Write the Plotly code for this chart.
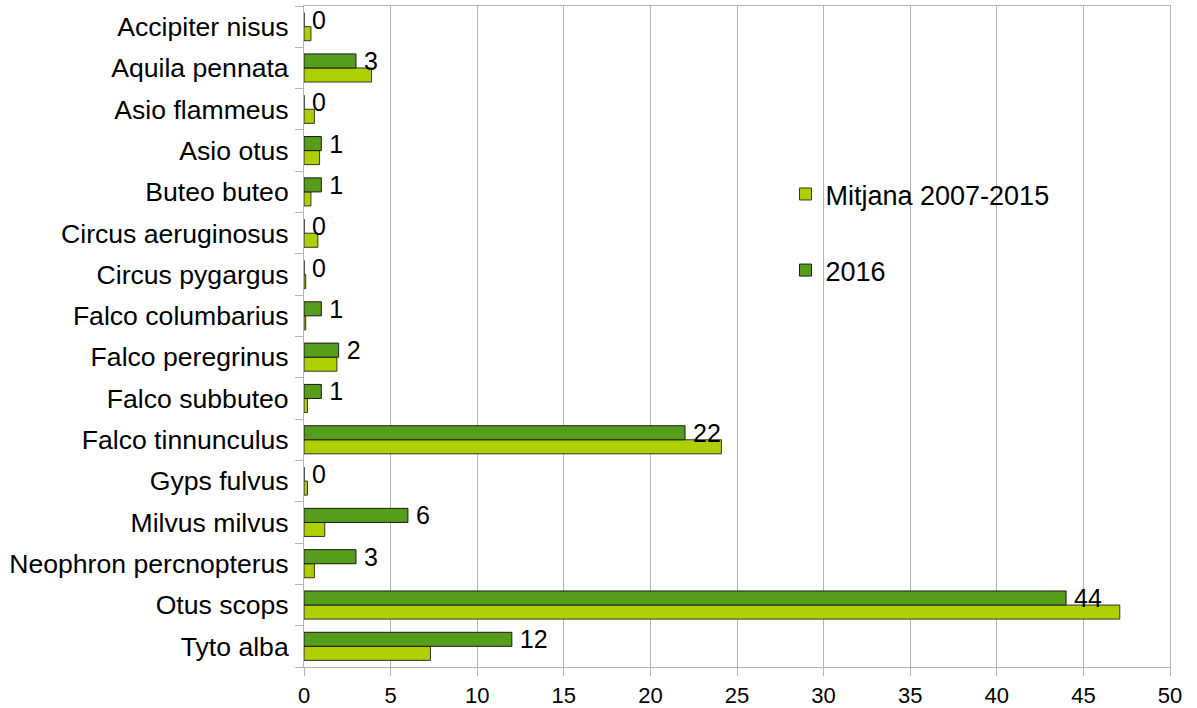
import plotly.graph_objects as go

species = [
    "Accipiter nisus", "Aquila pennata", "Asio flammeus", "Asio otus",
    "Buteo buteo", "Circus aeruginosus", "Circus pygargus", "Falco columbarius",
    "Falco peregrinus", "Falco subbuteo", "Falco tinnunculus", "Gyps fulvus",
    "Milvus milvus", "Neophron percnopterus", "Otus scops", "Tyto alba",
]
mitjana = [0.4, 3.9, 0.6, 0.9, 0.4, 0.8, 0.1, 0.1, 1.9, 0.2, 24.1, 0.2, 1.2, 0.6, 47.1, 7.3]
y2016 = [0, 3, 0, 1, 1, 0, 0, 1, 2, 1, 22, 0, 6, 3, 44, 12]
x_ticks = [0, 5, 10, 15, 20, 25, 30, 35, 40, 45, 50]

FONT = "Liberation Sans, Arial, sans-serif"
GRID = "#b3b3b3"

fig = go.Figure()
fig.add_trace(go.Bar(
    y=species, x=mitjana, orientation="h", name="Mitjana 2007-2015",
    marker=dict(color="#aecf00", line=dict(color="#333333", width=1)),
    legendgroup="a",
))
fig.add_trace(go.Bar(
    y=species, x=y2016, orientation="h", name="2016",
    marker=dict(color="#579d1c", line=dict(color="#1a1a1a", width=1)),
    text=["\u2009" + str(v) for v in y2016], textposition="outside",
    textfont=dict(family=FONT, size=25, color="#000000"),
    constraintext="none", cliponaxis=False,
    legendgroup="b",
))

fig.update_layout(
    width=1197, height=708,
    margin=dict(l=304, r=27, t=6, b=41),
    paper_bgcolor="white", plot_bgcolor="white",
    barmode="group", bargap=0.32, bargroupgap=0,
    font=dict(family=FONT, color="#000000"),
    showlegend=True,
    legend=dict(
        x=0.556, y=0.752, xanchor="left", yanchor="top",
        font=dict(family=FONT, size=27, color="#000000"),
        traceorder="grouped", tracegroupgap=38,
        bgcolor="rgba(0,0,0,0)",
    ),
    xaxis=dict(
        range=[0, 50], tickvals=x_ticks, ticktext=[str(t) for t in x_ticks],
        showgrid=True, gridcolor=GRID, gridwidth=1,
        showline=True, linecolor=GRID, linewidth=1, mirror=True,
        ticks="outside", ticklen=8, tickcolor=GRID,
        tickfont=dict(family=FONT, size=22, color="#000000"),
        ticklabelstandoff=1, automargin=False,
        zeroline=False,
    ),
    yaxis=dict(
        type="category", categoryorder="array", categoryarray=species[::-1],
        showgrid=False, showline=True, linecolor=GRID, linewidth=1, mirror=True,
        ticks="outside", ticklen=8, tickcolor=GRID, tickson="boundaries",
        tickfont=dict(family=FONT, size=26.6, color="#000000"),
        ticklabelstandoff=9, automargin=False,
    ),
)

fig.write_html("out.html", config={"displayModeBar": False},
               post_script="document.body.style.margin='0';")
